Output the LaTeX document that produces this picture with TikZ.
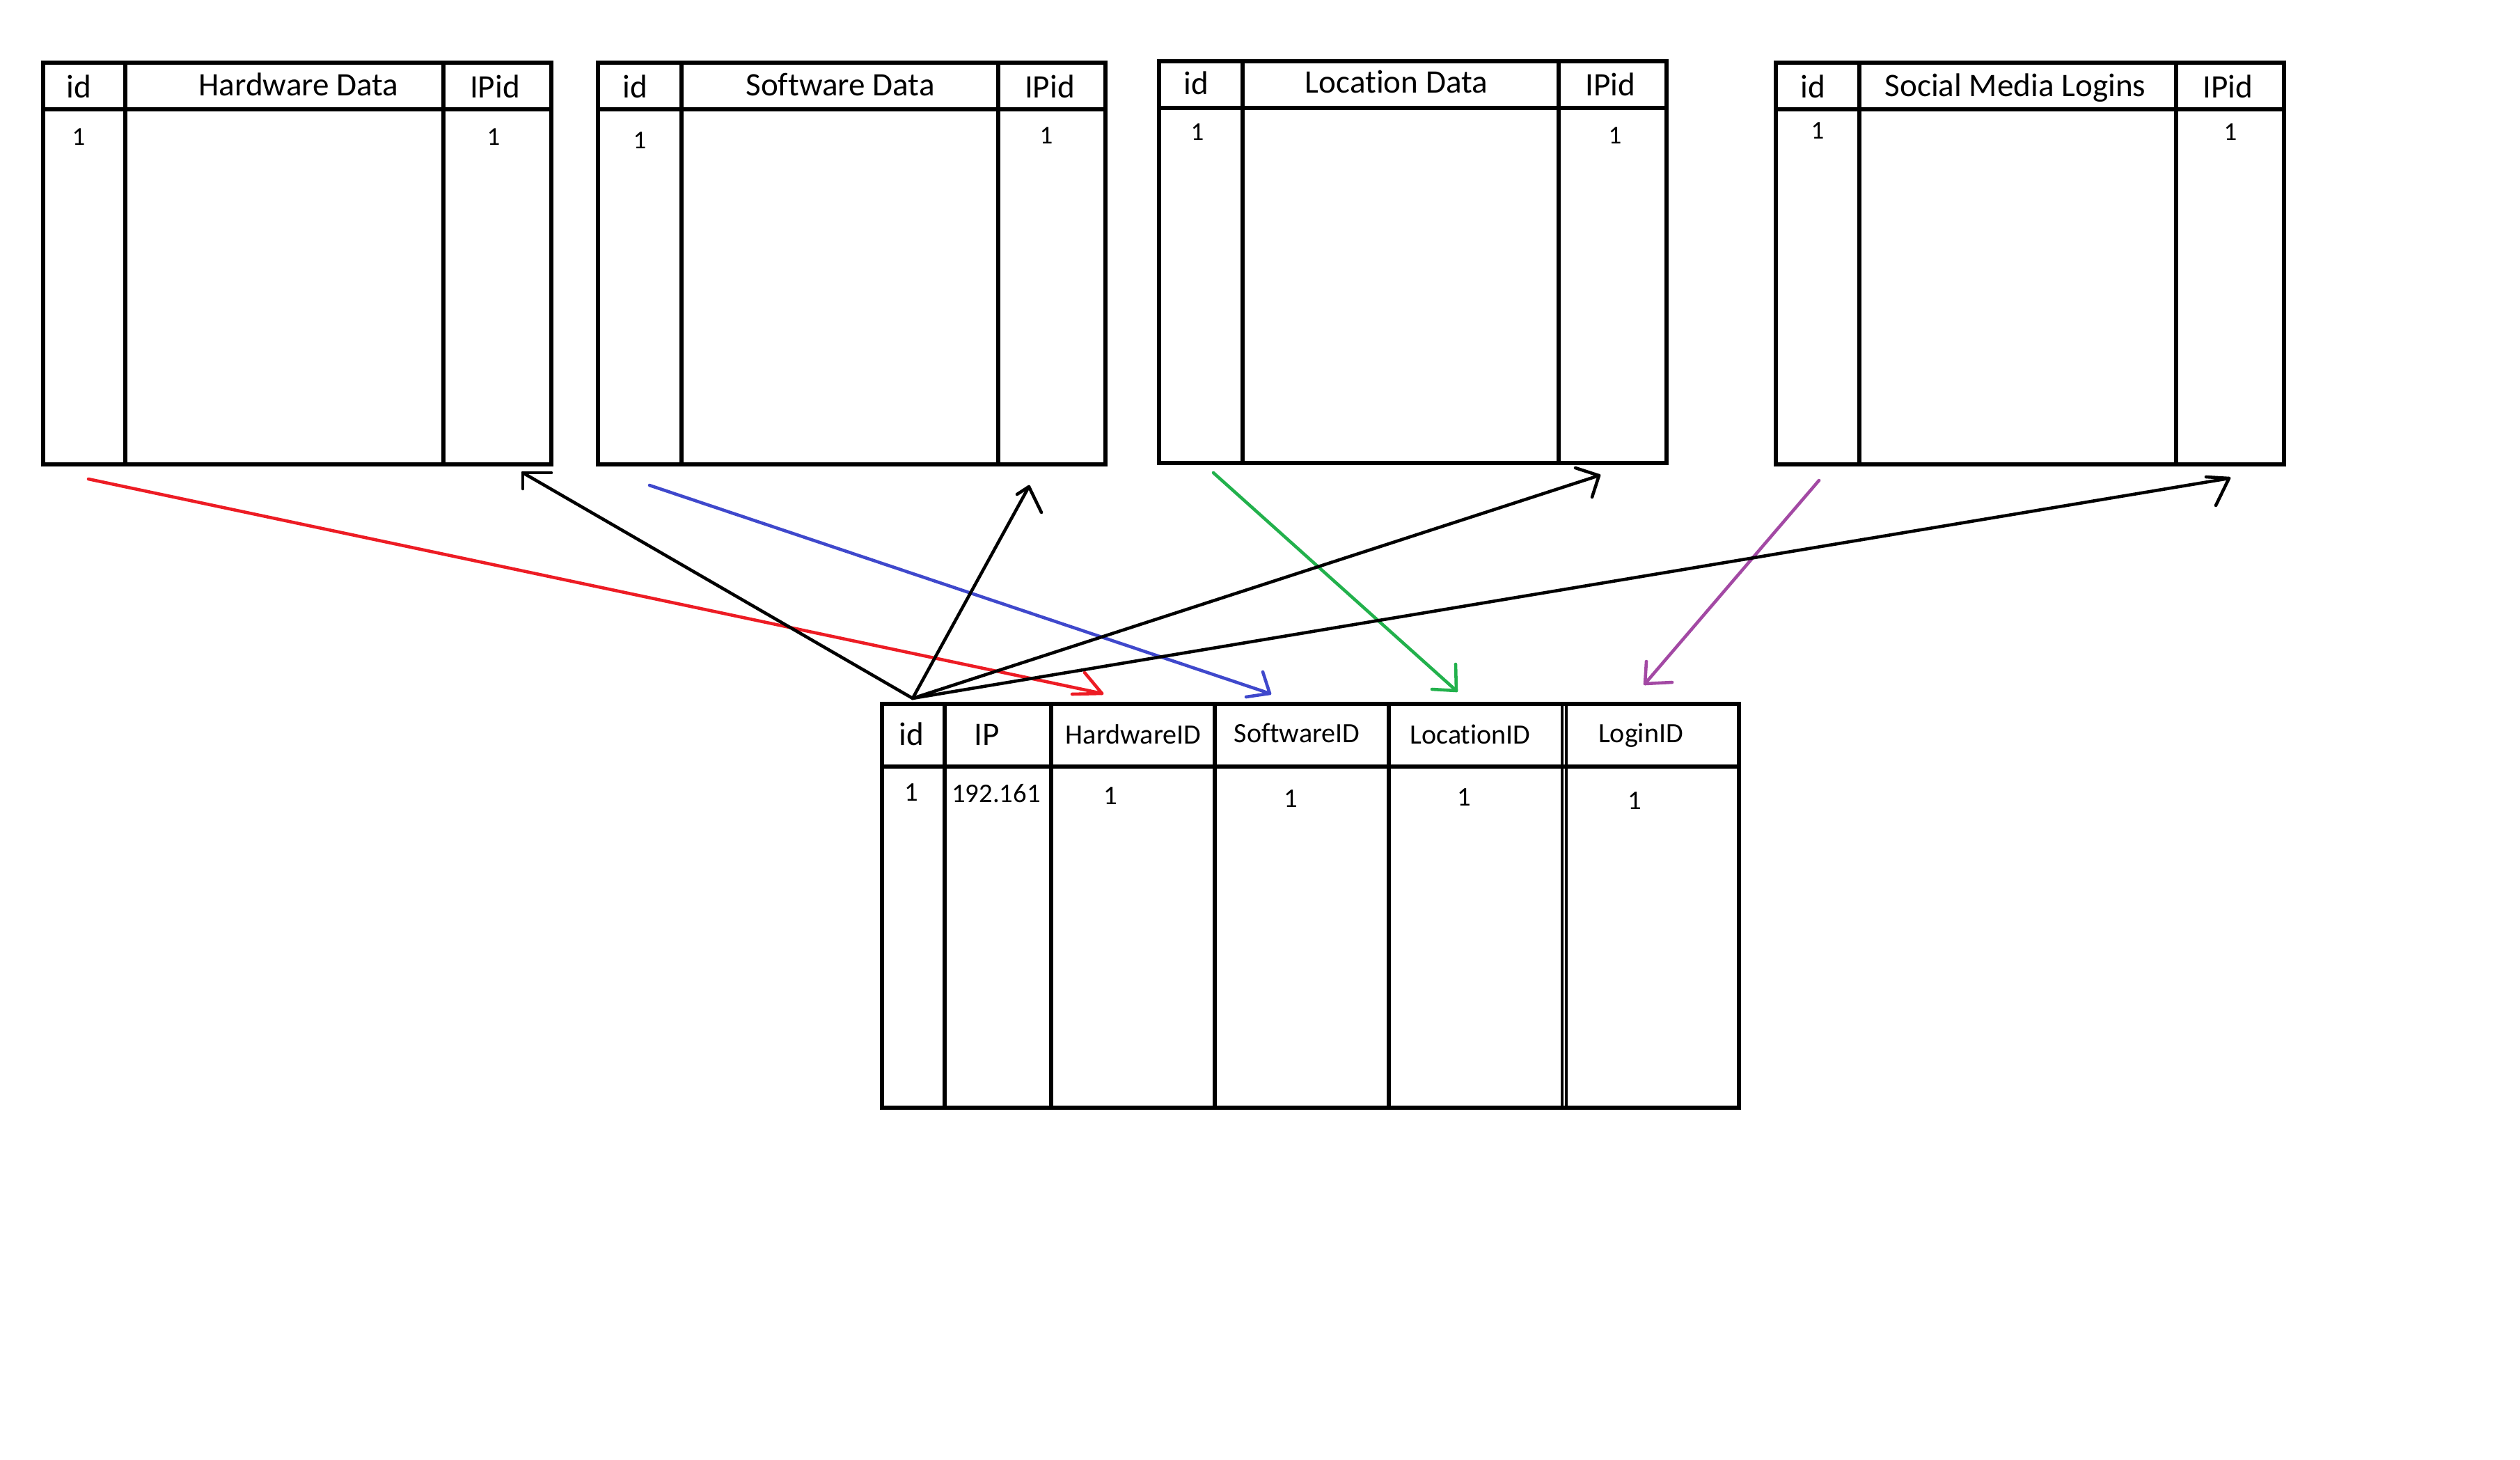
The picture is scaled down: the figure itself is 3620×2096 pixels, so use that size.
\documentclass[tikz,border=0pt]{standalone}
\usepackage{fontspec}
\setmainfont{Carlito}[Ligatures={NoCommon}]
\definecolor{pred}{RGB}{237,28,36}
\definecolor{pblue}{RGB}{63,72,204}
\definecolor{pgreen}{RGB}{34,177,76}
\definecolor{ppurple}{RGB}{163,73,164}
\begin{document}
\begin{tikzpicture}[x=0.01cm,y=-0.01cm,
  tbl/.style={line width=1.7pt},
  hdr/.style={font=\fontsize{13.4}{16}\selectfont, inner sep=0pt, anchor=base},
  hdrs/.style={font=\fontsize{11.4}{14}\selectfont, inner sep=0pt, anchor=base},
  val/.style={font=\fontsize{10.5}{13}\selectfont, inner sep=0pt, anchor=base},
  vals/.style={font=\fontsize{11}{13}\selectfont, inner sep=0pt, anchor=base},
  lnk/.style={line width=1.3pt, line cap=round, line join=round}]
\useasboundingbox (0,0) rectangle (3620,2096);
\fill[white] (0,0) rectangle (3620,2096);

% ---------- top tables ----------
% Hardware
\draw[tbl] (62,90) rectangle (792,667);
\draw[tbl] (62,157) -- (792,157);
\draw[tbl] (180,90) -- (180,667);
\draw[tbl] (637,90) -- (637,667);
\node[hdr] (hwid) at (113,140) {id};
\node[hdr] (hwtitle) at (429,137) {Hardware Data};
\node[hdr] (hwipid) at (711,140) {IPid};
\node[val] (hwv1) at (113,208) {1};
\node[val] (hwv2) at (709,208) {1};

% Software
\draw[tbl] (859,90) rectangle (1588,667);
\draw[tbl] (859,157) -- (1588,157);
\draw[tbl] (979,90) -- (979,667);
\draw[tbl] (1434,90) -- (1434,667);
\node[hdr] (swid) at (912,140) {id};
\node[hdr] (swtitle) at (1207,137) {Software Data};
\node[hdr] (swipid) at (1508,140) {IPid};
\node[val] (swv1) at (919,213) {1};
\node[val] (swv2) at (1503,206) {1};

% Location
\draw[tbl] (1665,88) rectangle (2394,665);
\draw[tbl] (1665,155) -- (2394,155);
\draw[tbl] (1785,88) -- (1785,665);
\draw[tbl] (2239,88) -- (2239,665);
\node[hdr] (loid) at (1718,135) {id};
\node[hdr] (lotitle) at (2006,133) {Location Data};
\node[hdr] (loipid) at (2313,137) {IPid};
\node[val] (lov1) at (1720,201) {1};
\node[val] (lov2) at (2320,206) {1};

% Social media
\draw[tbl] (2551,90) rectangle (3281,667);
\draw[tbl] (2551,157) -- (3281,157);
\draw[tbl] (2671,90) -- (2671,667);
\draw[tbl] (3126,90) -- (3126,667);
\node[hdr] (smid) at (2604,140) {id};
\node[hdr] (smtitle) at (2895,138) {Social Media Logins};
\node[hdr] (smipid) at (3200,140) {IPid};
\node[val] (smv1) at (2611,199) {1};
\node[val] (smv2) at (3204,201) {1};

% ---------- bottom table ----------
\draw[tbl] (1267,1011) -- (2498,1011) -- (2498,1591) -- (1267,1591) -- cycle;
\draw[tbl] (1267,1101) -- (2498,1101);
\foreach \cx in {1357,1510,1745,1995} \draw[tbl] (\cx,1011) -- (\cx,1591);
\draw[line width=0.9pt] (2244,1011) -- (2244,1591);
\draw[line width=0.9pt] (2250,1011) -- (2250,1591);
\node[hdr] (bid) at (1309,1070) {id};
\node[hdr] (bip) at (1418,1070) {IP};
\node[hdrs] (bhw) at (1628,1068) {HardwareID};
\node[hdrs] (bsw) at (1863,1066) {SoftwareID};
\node[hdrs] (blo) at (2112,1068) {LocationID};
\node[hdrs] (blg) at (2357,1066) {LoginID};
\node[vals] (bv1) at (1309,1150) {1};
\node[vals] (bv2) at (1431,1152) {192.161};
\node[vals] (bv3) at (1595,1155) {1};
\node[vals] (bv4) at (1854,1159) {1};
\node[vals] (bv5) at (2103,1157) {1};
\node[vals] (bv6) at (2348,1162) {1};

% ---------- connector end points ----------
\coordinate (redA) at (127,688);
\coordinate (redB) at (1583,996);
\coordinate (redH1) at (1558,966);
\coordinate (redH2) at (1540,997);
\coordinate (blueA) at (933,697);
\coordinate (blueB) at (1824,996);
\coordinate (blueH1) at (1814,965);
\coordinate (blueH2) at (1790,1001);
\coordinate (greenA) at (1743,679);
\coordinate (greenB) at (2092,992);
\coordinate (greenH1) at (2091,954);
\coordinate (greenH2) at (2057,990);
\coordinate (purpA) at (2613,690);
\coordinate (purpB) at (2363,982);
\coordinate (purpH1) at (2365,950);
\coordinate (purpH2) at (2402,980);
\coordinate (hub) at (1311,1003);
\coordinate (hwEnd) at (751,679);
\coordinate (hwH1) at (792,679);
\coordinate (hwH2) at (751,702);
\coordinate (swEnd) at (1478,699);
\coordinate (swH1) at (1461,710);
\coordinate (swH2) at (1496,736);
\coordinate (loEnd) at (2297,683);
\coordinate (loH1) at (2263,672);
\coordinate (loH2) at (2287,714);
\coordinate (smEnd) at (3202,687);
\coordinate (smH1) at (3169,685);
\coordinate (smH2) at (3183,726);

% ---------- connectors ----------
\draw[lnk, pred] (redA) -- (redB);
\draw[lnk, pred] (redH1) -- (redB) -- (redH2);
\draw[lnk, pblue] (blueA) -- (blueB);
\draw[lnk, pblue] (blueH1) -- (blueB) -- (blueH2);
\draw[lnk, pgreen] (greenA) -- (greenB);
\draw[lnk, pgreen] (greenH1) -- (greenB) -- (greenH2);
\draw[lnk, ppurple] (purpA) -- (purpB);
\draw[lnk, ppurple] (purpH1) -- (purpB) -- (purpH2);
\draw[lnk, black] (hub) -- (hwEnd);
\draw[lnk, black] (hwH1) -- (hwEnd) -- (hwH2);
\draw[lnk, black] (hub) -- (swEnd);
\draw[lnk, black] (swH1) -- (swEnd) -- (swH2);
\draw[lnk, black] (hub) -- (loEnd);
\draw[lnk, black] (loH1) -- (loEnd) -- (loH2);
\draw[lnk, black] (hub) -- (smEnd);
\draw[lnk, black] (smH1) -- (smEnd) -- (smH2);
\end{tikzpicture}
\end{document}
